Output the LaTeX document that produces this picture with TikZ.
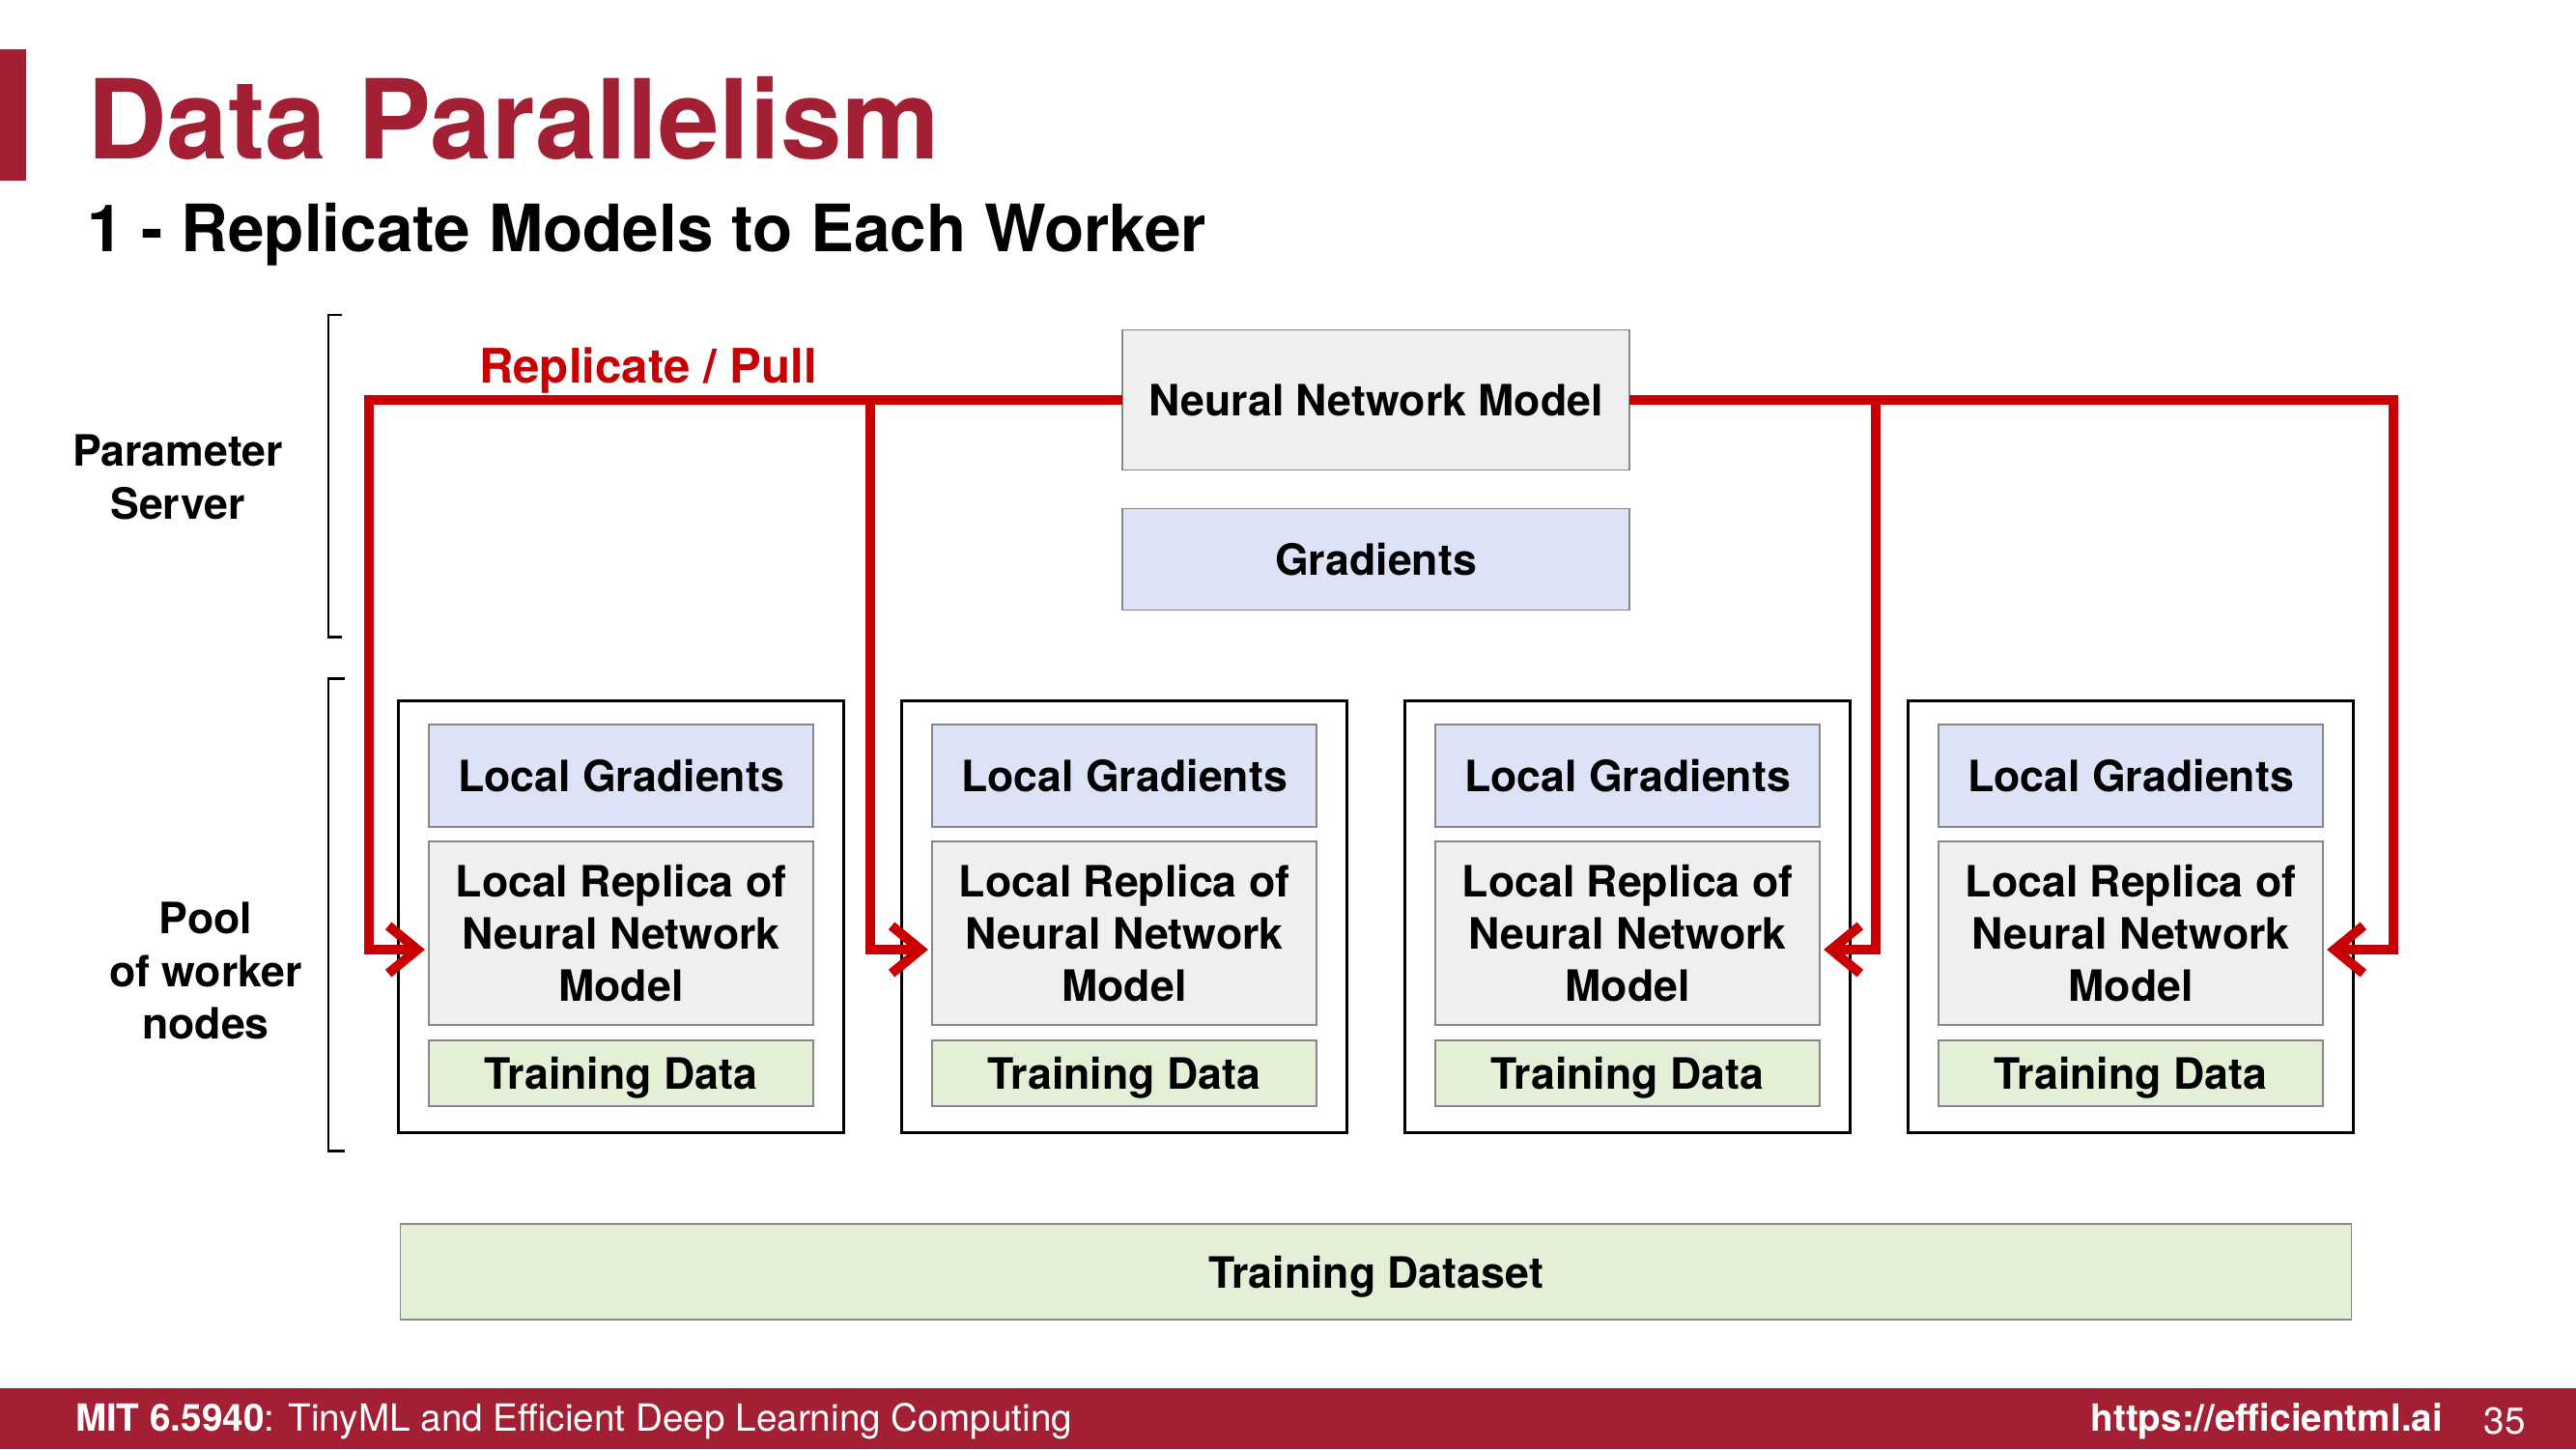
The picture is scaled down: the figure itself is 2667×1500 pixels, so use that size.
\documentclass[tikz,border=0pt]{standalone}
\usepackage{fontspec}
\setmainfont{TeX Gyre Heros}
\usetikzlibrary{arrows.meta,calc}
\definecolor{mitred}{RGB}{163,31,52}
\definecolor{pullred}{RGB}{200,0,4}
\definecolor{modelgray}{RGB}{239,239,239}
\definecolor{gradblue}{RGB}{221,227,246}
\definecolor{datagreen}{RGB}{228,239,216}
\definecolor{boxedge}{RGB}{136,136,136}
\newcommand\boxfont{\fontsize{12.7}{15.4}\selectfont\bfseries}
\begin{document}
\begin{tikzpicture}[x=0.01cm,y=-0.01cm,
  every node/.style={inner sep=0pt,outer sep=0pt},
  box/.style={draw=boxedge,line width=0.45pt,align=center,font=\boxfont},
  modelbox/.style={box,fill=modelgray},
  gradbox/.style={box,fill=gradblue},
  databox/.style={box,fill=datagreen,text depth=0pt},
  worker/.style={draw=black,line width=0.9pt,fill=white},
  sidelabel/.style={align=center,font=\boxfont},
  bracket/.style={draw=black,line width=0.85pt},
  pull/.style={draw=pullred,line width=2.85pt,-{Straight Barb[length=8.5pt,width=14pt]}}]
\useasboundingbox (0,0) rectangle (2667,1500);
\fill[white] (0,0) rectangle (2667,1500);

% title area
\fill[mitred] (0,51) rectangle (27,187);
\node[anchor=base west,text=mitred,font=\fontsize{32.5}{38}\selectfont\bfseries] (title) at (90,165) {Data Parallelism};
\node[anchor=base west,font=\fontsize{19.2}{23}\selectfont\bfseries] (subtitle) at (90,260) {1 - Replicate Models to Each Worker};

% side labels and brackets
\node[sidelabel] (ps) at (184,494) {Parameter\\Server};
\node[sidelabel] (pool) at (213,1005) {Pool\\of worker\\nodes};
\draw[bracket] (354,326) -- (340,326) -- (340,659) -- (354,659);
\draw[bracket] (357,702) -- (340,702) -- (340,1191) -- (357,1191);

% parameter server
\node[modelbox,minimum width=5.25cm,minimum height=1.45cm] (nn) at (1424.5,414) {Neural Network Model};
\node[gradbox,minimum width=5.25cm,minimum height=1.05cm] (grad) at (1424.5,579) {Gradients};
\node[text=pullred,font=\fontsize{14}{17}\selectfont\bfseries] (rp) at (671,384) {Replicate / Pull};

% workers
\foreach \i in {0,1,2,3}{
  \pgfmathsetmacro\cx{643+521*\i}
  \node[worker,minimum width=4.6cm,minimum height=4.46cm] (w\i) at (\cx,949) {};
  \node[gradbox,minimum width=3.98cm,minimum height=1.06cm] (lg\i) at (\cx,803) {Local Gradients};
  \node[modelbox,minimum width=3.98cm,minimum height=1.9cm] (lr\i) at (\cx,966) {Local Replica of\\Neural Network\\Model};
  \node[databox,minimum width=3.98cm,minimum height=0.68cm] (td\i) at (\cx,1111) {Training Data};
}

% dataset
\node[databox,minimum width=20.19cm,minimum height=0.99cm] (ds) at (1424.5,1316.5) {Training Dataset};

% replicate / pull connectors
\draw[pull] (nn.west) -| ($(lr0.west)+(-62,17)$) -- ($(lr0.west)+(-4,17)$);
\draw[pull] (nn.west) -| ($(lr1.west)+(-64,17)$) -- ($(lr1.west)+(-4,17)$);
\draw[pull] (nn.east) -| ($(lr2.east)+(58,17)$) -- ($(lr2.east)+(4,17)$);
\draw[pull] (nn.east) -| ($(lr3.east)+(73,17)$) -- ($(lr3.east)+(4,17)$);

% footer
\fill[mitred] (0,1437) rectangle (2667,1500);
\node[anchor=west,text=white,font=\fontsize{11}{13}\selectfont] (course) at (78,1471) {\textbf{MIT 6.5940}: TinyML and Efficient Deep Learning Computing};
\node[anchor=east,text=white,font=\fontsize{11}{13}\selectfont\bfseries] (url) at (2529,1471) {https://efficientml.ai};
\node[text=white,font=\fontsize{11}{13}\selectfont] (page) at (2593,1471) {35};
\end{tikzpicture}
\end{document}
